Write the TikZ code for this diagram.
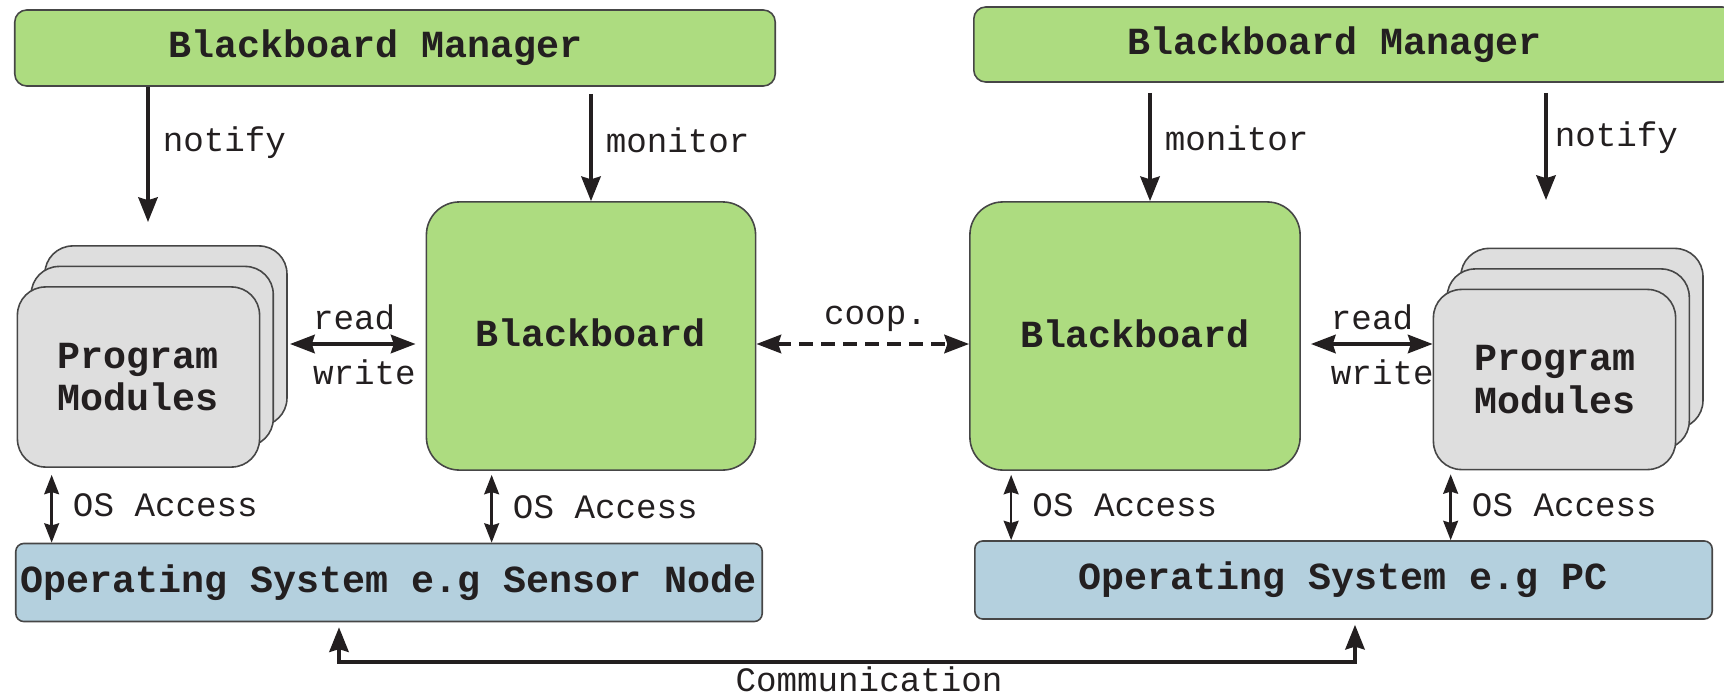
\documentclass[tikz,border=0pt]{standalone}
\usepackage{fontspec}
\setmainfont{Liberation Mono}
\usetikzlibrary{arrows.meta,shadows,positioning}
\usepackage{xcolor}
\definecolor{bbgreen}{RGB}{173,220,128}
\definecolor{osblue}{RGB}{180,208,222}
\definecolor{pmgray}{RGB}{222,222,222}
\definecolor{ink}{RGB}{35,31,32}
\definecolor{edgegray}{RGB}{70,70,70}

\tikzset{
  boxtxt/.style={font=\fontsize{10.9pt}{12pt}\selectfont\bfseries, text=ink,
    align=center, inner sep=0pt, draw=edgegray, line width=0.45pt},
  mgrbox/.style={boxtxt, fill=bbgreen, rounded corners=0.12cm,
    minimum width=7.6cm, minimum height=0.76cm},
  bbbox/.style={boxtxt, fill=bbgreen, rounded corners=0.33cm,
    minimum width=3.29cm, minimum height=2.68cm},
  pmbox/.style={boxtxt, fill=pmgray, rounded corners=0.28cm,
    minimum width=2.42cm, minimum height=1.8cm,
    double copy shadow={shadow xshift=0.137cm, shadow yshift=0.205cm}},
  osbox/.style={boxtxt, fill=osblue, rounded corners=0.08cm, minimum height=0.78cm},
  lbl/.style={font=\fontsize{9.73pt}{11pt}\selectfont, text=ink, inner sep=0pt},
  flow/.style={draw=ink, line width=1pt, -{Stealth[length=7pt,width=5.5pt,inset=0.8pt]}},
  rw/.style={draw=ink, line width=1.15pt,
    {Stealth[length=7pt,width=5.2pt,inset=0.8pt]}-{Stealth[length=7pt,width=5.2pt,inset=0.8pt]}},
  osacc/.style={draw=ink, line width=0.75pt,
    {Stealth[length=5.5pt,width=4.2pt,inset=0.6pt]}-{Stealth[length=5.5pt,width=4.2pt,inset=0.6pt]}},
}

\begin{document}
\begin{tikzpicture}[x=0.01cm, y=-0.01cm]
  \useasboundingbox (0,0) rectangle (1724,694);

  %% Managers
  \node[mgrbox] (mgrL) at (395,48) {\hspace*{-0.38cm}Blackboard Manager};
  \node[mgrbox, minimum height=0.75cm] (mgrR) at (1354,44.5)
    {\hspace*{-0.38cm}Blackboard Manager};

  %% Blackboards
  \node[bbbox] (bbL) at (591,336) {\raisebox{0.06cm}{Blackboard}};
  \node[bbbox, minimum width=3.3cm] (bbR) at (1135,336) {\raisebox{0.05cm}{Blackboard}};

  %% Program modules (stacked)
  \node[pmbox] (pmL) at (138.5,377) {Program\\Modules};
  \node[pmbox] (pmR) at (1554.5,379.5) {Program\\Modules};

  %% Operating systems
  \node[osbox, minimum width=7.46cm] (osL) at (389,582.5)
    {Operating System e.g Sensor Node};
  \node[osbox, minimum width=7.37cm] (osR) at (1343.5,580)
    {Operating System e.g PC};

  %% Manager -> modules / blackboard
  \coordinate (nL) at (148,222);
  \draw[flow] (mgrL.south -| nL) -- (nL)
    node[lbl, right=0.13cm, pos=0.41] {notify};
  \draw[flow, shorten <=0.07cm] (mgrL.south -| bbL.north) -- (bbL.north)
    node[lbl, right=0.13cm, pos=0.47] {monitor};
  \draw[flow, shorten <=0.1cm] ([xshift=0.15cm]bbR.north |- mgrR.south)
    -- ([xshift=0.15cm]bbR.north)
    node[lbl, right=0.13cm, pos=0.47] {monitor};
  \coordinate (nR) at (1546,200);
  \draw[flow, shorten <=0.1cm] (mgrR.south -| nR) -- (nR)
    node[lbl, right=0.07cm, pos=0.47] {notify};

  %% read / write
  \coordinate (rwL) at (290,344);
  \draw[rw, shorten >=0.1cm] (rwL) -- (rwL -| bbL.west)
    node[lbl, pos=0, anchor=west, xshift=0.21cm, yshift=0.27cm] {read}
    node[lbl, pos=0, anchor=west, xshift=0.21cm, yshift=-0.28cm] {write};
  \draw[rw, shorten <=0.1cm] (bbR.east |- rwL) -- (pmR.west |- rwL)
    node[lbl, pos=0, anchor=west, xshift=0.28cm, yshift=0.27cm] {read}
    node[lbl, pos=0, anchor=west, xshift=0.28cm, yshift=-0.28cm] {write};

  %% cooperation
  \draw[rw, dash pattern=on 0.14cm off 0.08cm] (bbL.east |- rwL) -- (bbR.west |- rwL)
    node[lbl, pos=0.56, yshift=0.25cm] {coop.};

  %% OS access
  \draw[osacc, shorten <=0.07cm] ([xshift=0.35cm]pmL.south west)
    -- ([xshift=0.35cm]pmL.south west |- osL.north)
    node[lbl, midway, right=0.2cm] {OS Access};
  \draw[osacc, shorten <=0.04cm] ([xshift=0.66cm]bbL.south west)
    -- ([xshift=0.66cm]bbL.south west |- osL.north)
    node[lbl, midway, right=0.2cm] {OS Access};
  \draw[osacc, shorten <=0.04cm] ([xshift=0.42cm]bbR.south west)
    -- ([xshift=0.42cm]bbR.south west |- osR.north)
    node[lbl, midway, right=0.2cm] {OS Access};
  \draw[osacc, shorten <=0.04cm] ([xshift=0.18cm]pmR.south west)
    -- ([xshift=0.18cm]pmR.south west |- osR.north)
    node[lbl, midway, right=0.2cm] {OS Access};

  %% Communication
  \coordinate (cL) at (339,662);
  \coordinate (cR) at (1355,662);
  \draw[flow, shorten <=0.05cm, shorten >=0.05cm,
    {Stealth[length=7pt,width=5.5pt,inset=0.8pt]}-{Stealth[length=7pt,width=5.5pt,inset=0.8pt]}]
    (osL.south -| cL) -- (cL) -- (cR) -- (osR.south -| cR);
  \node[lbl] (commlbl) at (869,679) {Communication};
\end{tikzpicture}
\end{document}
